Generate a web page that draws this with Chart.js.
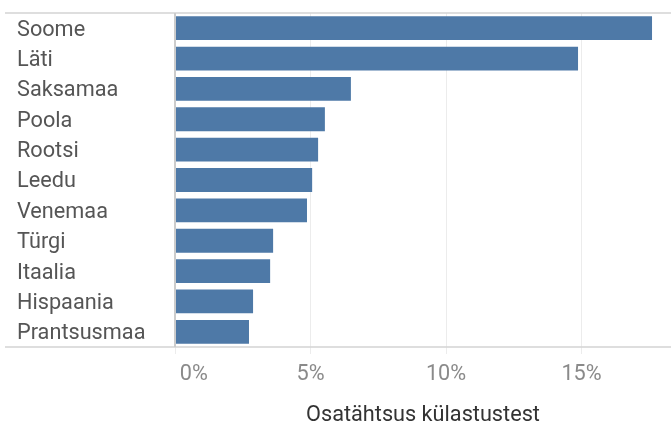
<!DOCTYPE html>
<html>
<head>
<meta charset="utf-8">
<script src="https://cdn.jsdelivr.net/npm/chart.js@4/dist/chart.umd.min.js"></script>
<style>
html,body{margin:0;padding:0;background:#fff;}
#wrap{width:671px;height:426px;position:relative;}
</style>
</head>
<body>
<div id="wrap"><canvas id="c"></canvas></div>
<script>
const categories = ["Soome","Läti","Saksamaa","Poola","Rootsi","Leedu","Venemaa","Türgi","Itaalia","Hispaania","Prantsusmaa"];
const shares = [17.6, 14.87, 6.49, 5.53, 5.28, 5.06, 4.87, 3.62, 3.51, 2.88, 2.73];
const xTicks = [0, 5, 10, 15];
const axisTitle = "Osatähtsus külastustest";

const frameLines = {
  id: 'frameLines',
  afterDatasetsDraw(chart) {
    const {ctx, chartArea} = chart;
    ctx.save();
    ctx.strokeStyle = '#d4d4d4';
    ctx.lineWidth = 1.5;
    ctx.beginPath();
    ctx.moveTo(5, chartArea.top);
    ctx.lineTo(chart.width, chartArea.top);
    ctx.moveTo(5, chartArea.bottom);
    ctx.lineTo(chart.width, chartArea.bottom);
    ctx.stroke();
    ctx.strokeStyle = '#cccccc';
    ctx.lineWidth = 2;
    ctx.beginPath();
    ctx.moveTo(chartArea.left, chartArea.top);
    ctx.lineTo(chartArea.left, chartArea.bottom);
    ctx.stroke();
    ctx.restore();
  }
};

const FONT = 'Roboto';
const FS = 21.7;

new Chart(document.getElementById('c'), {
  type: 'bar',
  data: {
    labels: categories,
    datasets: [{
      data: shares,
      backgroundColor: '#4e79a7',
      borderWidth: 0,
      barPercentage: 0.785,
      categoryPercentage: 1.0
    }]
  },
  options: {
    indexAxis: 'y',
    responsive: true,
    maintainAspectRatio: false,
    animation: false,
    layout: { padding: { top: 11, left: 17, right: 0, bottom: 0 } },
    plugins: { legend: { display: false }, tooltip: { enabled: false } },
    scales: {
      y: {
        grid: { display: false, drawTicks: false },
        border: { display: false },
        ticks: {
          crossAlign: 'far',
          color: '#555555',
          font: { family: FONT, size: FS },
          padding: 0,
          labelOffset: 2
        },
        afterFit(scale) { scale.width = 158; }
      },
      x: {
        min: 0,
        max: 18.3,
        grid: { color: '#ececec', lineWidth: 1, tickLength: 7, drawTicks: true },
        border: { display: false },
        ticks: {
          color: '#8a8a8a',
          font: { family: FONT, size: FS },
          padding: 8,
          callback: (v) => (v === 0 ? '       ' : '') + v + '%'
        },
        afterBuildTicks(scale) { scale.ticks = xTicks.map(v => ({ value: v })); },
        title: {
          display: true,
          text: axisTitle,
          color: '#333333',
          font: { family: FONT, size: FS, lineHeight: 1.0 },
          padding: { top: 0, bottom: 0 }
        },
        afterFit(scale) { scale.height = 79; }
      }
    }
  },
  plugins: [frameLines]
});
</script>
</body>
</html>
